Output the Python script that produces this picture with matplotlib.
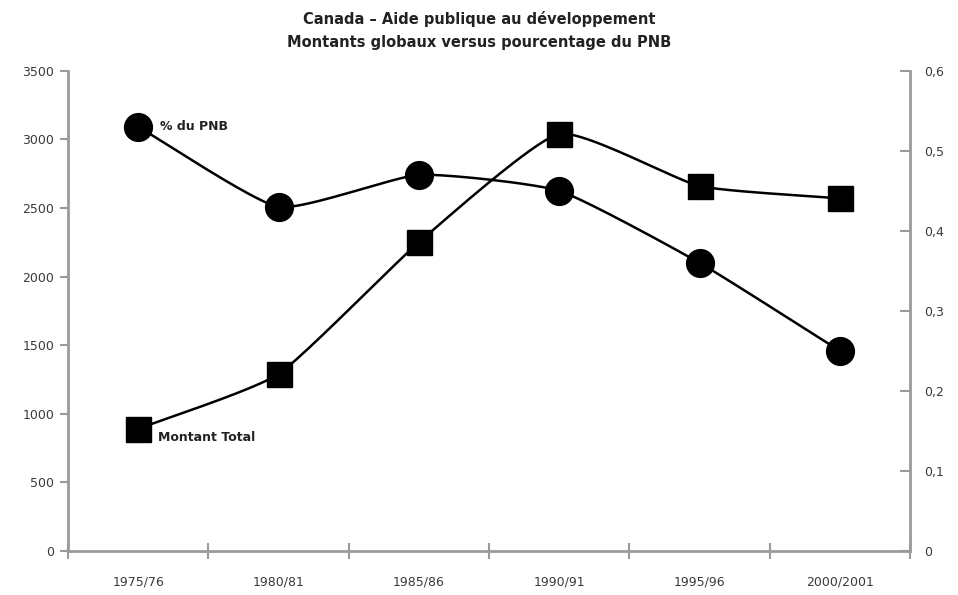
import numpy as np
import matplotlib
matplotlib.use("Agg")
import matplotlib.pyplot as plt

periods = ["1975/76", "1980/81", "1985/86", "1990/91", "1995/96", "2000/2001"]
montant_total = [890, 1290, 2250, 3040, 2660, 2570]
pct_pnb = [0.53, 0.43, 0.47, 0.45, 0.36, 0.25]

left_ticks = [0, 500, 1000, 1500, 2000, 2500, 3000, 3500]
right_ticks = [0, 0.1, 0.2, 0.3, 0.4, 0.5, 0.6]
right_labels = ["0", "0,1", "0,2", "0,3", "0,4", "0,5", "0,6"]

FONT = ["Liberation Sans Narrow", "DejaVu Sans"]
AX_COL = "#9a9a9a"
TXT_COL = "#3a3a3a"


def smooth(x, y, tension=0.5, n=40):
    """Cardinal spline passing through every point."""
    x = np.asarray(x, float)
    y = np.asarray(y, float)
    px = np.concatenate([[2 * x[0] - x[1]], x, [2 * x[-1] - x[-2]]])
    py = np.concatenate([[2 * y[0] - y[1]], y, [2 * y[-1] - y[-2]]])
    t = np.linspace(0, 1, n)
    h00 = 2 * t**3 - 3 * t**2 + 1
    h10 = t**3 - 2 * t**2 + t
    h01 = -2 * t**3 + 3 * t**2
    h11 = t**3 - t**2
    xs, ys = [], []
    for i in range(1, len(px) - 2):
        for p, out in ((px, xs), (py, ys)):
            m1 = (1 - tension) * (p[i + 1] - p[i - 1]) / 2
            m2 = (1 - tension) * (p[i + 2] - p[i]) / 2
            out.append(h00 * p[i] + h10 * m1 + h01 * p[i + 1] + h11 * m2)
    return np.concatenate(xs), np.concatenate(ys)


fig = plt.figure(figsize=(9.58, 5.95), dpi=100)
ax = fig.add_axes([0.071, 0.074, 0.879, 0.807])
ax2 = ax.twinx()

xpos = np.arange(len(periods)) + 0.5

# Montant total (left axis)
sx, sy = smooth(xpos, montant_total)
ax.plot(sx, sy, color="black", lw=1.8, zorder=3)
ax.plot(xpos, montant_total, ls="none", marker="s", ms=18, color="black", zorder=4)

# % du PNB (right axis)
sx2, sy2 = smooth(xpos, pct_pnb)
ax2.plot(sx2, sy2, color="black", lw=1.8, zorder=3)
ax2.plot(xpos, pct_pnb, ls="none", marker="o", ms=20, color="black", zorder=4)

ax.set_xlim(0, len(periods))
ax.set_ylim(0, 3500)
ax2.set_ylim(0, 0.6)

for a in (ax, ax2):
    for s in a.spines.values():
        s.set_visible(False)
    a.patch.set_visible(False)

ax.spines["left"].set_visible(True)
ax.spines["bottom"].set_visible(True)
ax2.spines["right"].set_visible(True)
for s in (ax.spines["left"], ax.spines["bottom"], ax2.spines["right"]):
    s.set_color(AX_COL)
    s.set_linewidth(2)

ax.set_yticks(left_ticks)
ax.set_yticklabels([str(v) for v in left_ticks])
ax.tick_params(axis="y", direction="out", length=6, width=1.5, color=AX_COL,
               labelsize=9, labelcolor=TXT_COL, pad=4)

ax2.set_yticks(right_ticks)
ax2.set_yticklabels(right_labels)
ax2.tick_params(axis="y", direction="in", length=7, width=1.5, color=AX_COL,
                labelsize=9, labelcolor=TXT_COL, pad=10)

ax.set_xticks(np.arange(len(periods) + 1))
ax.set_xticklabels([])
ax.set_xticks(xpos, minor=True)
ax.set_xticklabels(periods, minor=True)
ax.tick_params(axis="x", which="major", direction="inout", length=12, width=1.5,
               color=AX_COL)
ax.tick_params(axis="x", which="minor", length=0, labelsize=9,
               labelcolor=TXT_COL, pad=18)

for lbl in ax.get_xticklabels(minor=True) + ax.get_yticklabels() + ax2.get_yticklabels():
    lbl.set_family(FONT)

ax2.annotate("% du PNB", (xpos[0], pct_pnb[0]), xytext=(16, 0),
             textcoords="offset points", va="center", ha="left",
             fontsize=9, fontweight="bold", family=FONT, color="#222222")
ax.annotate("Montant Total", (xpos[0], montant_total[0]), xytext=(14, -6),
            textcoords="offset points", va="center", ha="left",
            fontsize=9, fontweight="bold", family=FONT, color="#222222")

fig.text(0.5, 0.968, "Canada \u2013 Aide publique au développement",
         ha="center", va="center", fontsize=10.5, fontweight="bold",
         family=FONT, color="#222222")
fig.text(0.5, 0.928, "Montants globaux versus pourcentage du PNB",
         ha="center", va="center", fontsize=10.5, fontweight="bold",
         family=FONT, color="#222222")

fig.savefig("out.png", dpi=100, facecolor="white")
